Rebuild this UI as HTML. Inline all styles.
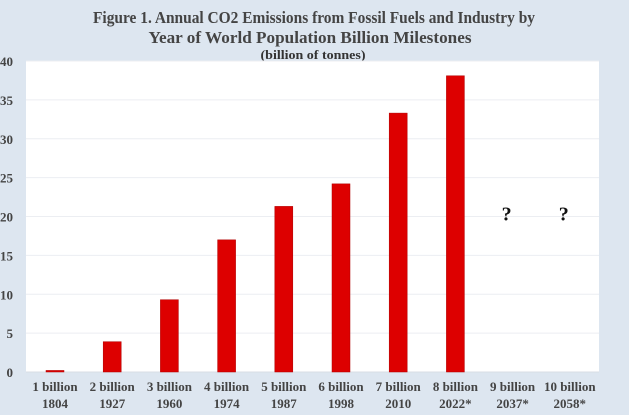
<!DOCTYPE html>
<html><head><meta charset="utf-8"><style>
body{margin:0;background:#dde6f0;}
svg{display:block;font-family:"Liberation Serif",serif;}
</style></head><body>
<svg width="629" height="415">
<rect width="629" height="415" fill="#dde6f0"/>
<text x="314" y="23" text-anchor="middle" font-size="17" font-weight="bold" fill="#444" textLength="442" lengthAdjust="spacingAndGlyphs">Figure 1. Annual CO2 Emissions from Fossil Fuels and Industry by</text>
<text x="310" y="43" text-anchor="middle" font-size="17" font-weight="bold" fill="#444" textLength="323" lengthAdjust="spacingAndGlyphs">Year of World Population Billion Milestones</text>
<text x="313" y="59" text-anchor="middle" font-size="12.5" font-weight="bold" fill="#333" textLength="105" lengthAdjust="spacingAndGlyphs">(billion of tonnes)</text>
<rect x="26" y="61" width="573" height="311" fill="#fff"/>
<g id="grid"></g><g id="bars"></g><g id="labels"></g>
</svg>
<script>
const categories=["1 billion","2 billion","3 billion","4 billion","5 billion","6 billion","7 billion","8 billion","9  billion","10 billion"];
const years=["1804","1927","1960","1974","1987","1998","2010","2022*","2037*","2058*"];
const values=[0.2,3.9,9.3,17.0,21.3,24.2,33.3,38.1,null,null];
const yTicks=[0,5,10,15,20,25,30,35,40];
const NS="http://www.w3.org/2000/svg";
const x0=26.4,step=57.2,y0=372,yTop=61,ymax=40;
const X=i=>x0+step*(i+0.5);
const Y=v=>y0-(v/ymax)*(y0-yTop);
const g=document.getElementById('grid'),b=document.getElementById('bars'),l=document.getElementById('labels');
function mk(tag,attrs,parent,text){const e=document.createElementNS(NS,tag);for(const k in attrs)e.setAttribute(k,attrs[k]);if(text!=null)e.textContent=text;parent.appendChild(e);return e;}
yTicks.forEach(t=>{
 const ln=mk('line',{x1:26,x2:599,y1:Y(t),y2:Y(t),stroke:t===0?'#d8dde4':'#eceef2','stroke-width':1},g);
 
 
 const tx=mk('text',{x:13,y:Y(t)+5,'text-anchor':'end','font-size':13,'font-weight':'bold',fill:'#444'},l,t);
 
 
});
categories.forEach((c,i)=>{
 const v=values[i];
 if(v!=null){
  const r=mk('rect',{x:X(i)-9,y:Y(v),width:18,height:y0-Y(v),fill:'#dd0000',stroke:'#b00000','stroke-width':0.5},b);
  
  
 } else {
  const q=mk('text',{x:X(i)-6,y:Y(20)+4,'text-anchor':'middle','font-size':20,'font-weight':'bold',fill:'#111'},l,'?');
  
  
 }
 const t1=mk('text',{x:X(i),y:391,'text-anchor':'middle','font-size':13,'font-weight':'bold',fill:'#444'},l,c);
 
 
 const t2=mk('text',{x:X(i),y:408,'text-anchor':'middle','font-size':13,'font-weight':'bold',fill:'#444'},l,years[i]);
 
 
});
</script>
</body></html>
